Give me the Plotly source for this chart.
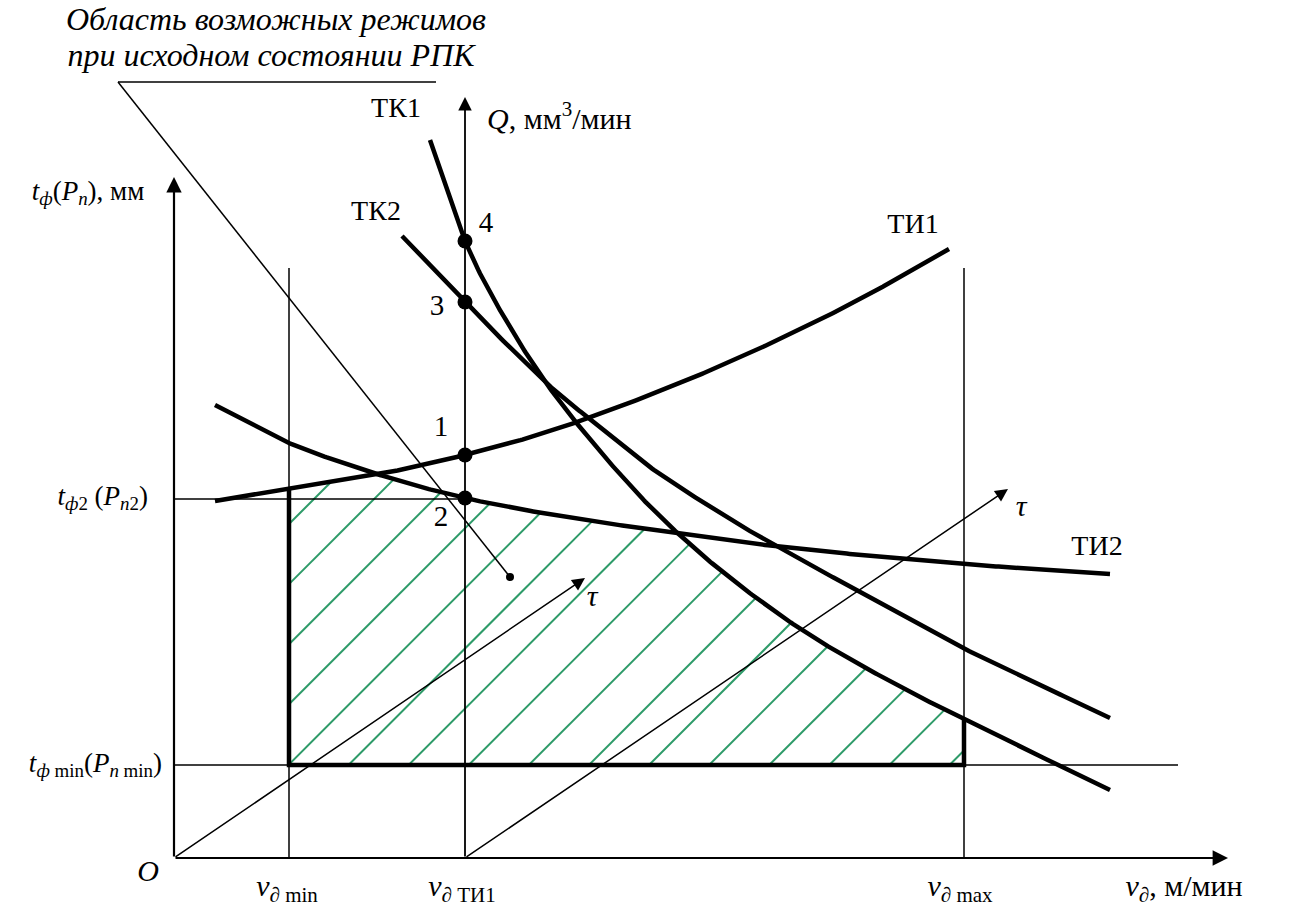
import numpy as np
import plotly.graph_objects as go

# ---------------- data (schematic units; O is the origin) ----------------
V_MIN, V_TI1, V_MAX = 1.15, 2.91, 7.90
T_F2, T_MIN = 3.59, 0.93

ti1_x = [0.41, 1.15, 2.06, 2.91, 3.70, 4.50, 5.30, 6.10, 6.90, 7.75]
ti1_y = [3.57, 3.69, 3.84, 4.03, 4.25, 4.53, 4.85, 5.21, 5.61, 6.09]

ti2_x = [0.41, 1.15, 2.06, 2.91, 3.80, 4.80, 6.00, 7.20, 8.30, 9.36]
ti2_y = [4.53, 4.15, 3.83, 3.60, 3.43, 3.28, 3.12, 3.00, 2.91, 2.84]

tk1_x = [2.56, 2.91, 3.30, 3.75, 4.25, 4.80, 5.45, 6.25, 7.10, 8.00, 9.36]
tk1_y = [7.18, 6.17, 5.41, 4.71, 4.08, 3.475, 2.89, 2.30, 1.80, 1.34, 0.68]

tk2_x = [2.28, 2.91, 3.66, 4.13, 4.73, 5.46, 6.06, 7.06, 7.89, 9.36]
tk2_y = [6.22, 5.56, 4.81, 4.41, 3.93, 3.45, 3.10, 2.55, 2.10, 1.40]

point_labels = ["1", "2", "3", "4"]
point_y = [4.03, 3.60, 5.56, 6.17]

curve_names = ["ТИ1", "ТИ2", "ТК1", "ТК2"]

AXIS_X_END, AXIS_Y_END, Q_AXIS_END = 10.54, 6.81, 7.61
GUIDE_TOP = 5.90
TMIN_LINE_END = 10.04
TAU1_END = (4.11, 2.80)
TAU2_END = (8.34, 3.69)
LEADER = [(-0.56, 7.76), (2.62, 7.76), (3.36, 2.81)]

HATCH_B0, HATCH_STEP, HATCH_N = 2.19, 0.601, 16

# ---------------- helpers ----------------
def smooth(xs, ys, n=40):
    P = np.column_stack([xs, ys]).astype(float)
    P = np.vstack([2 * P[0] - P[1], P, 2 * P[-1] - P[-2]])
    out = []
    t = np.linspace(0, 1, n, endpoint=False)[:, None]
    for i in range(1, len(P) - 2):
        p0, p1, p2, p3 = P[i - 1], P[i], P[i + 1], P[i + 2]
        pts = 0.5 * ((2 * p1) + (-p0 + p2) * t + (2 * p0 - 5 * p1 + 4 * p2 - p3) * t ** 2
                     + (-p0 + 3 * p1 - 3 * p2 + p3) * t ** 3)
        out.append(pts)
    out.append(P[-2][None, :])
    S = np.vstack(out)
    return S[:, 0], S[:, 1]

TI1 = smooth(ti1_x, ti1_y)
TI2 = smooth(ti2_x, ti2_y)
TK1 = smooth(tk1_x, tk1_y)
TK2 = smooth(tk2_x, tk2_y)

def f(curve, x):
    return np.interp(x, curve[0], curve[1], left=np.inf, right=np.inf)

BLACK = "#000000"
GREEN = "#2e9b69"
FONT = "Liberation Serif"

fig = go.Figure()

# ---------------- hatching ----------------
grid = np.linspace(V_MIN, V_MAX, 6000)
top = np.minimum(np.minimum(f(TI1, grid), f(TI2, grid)), f(TK1, grid))
hx, hy = [], []
for k in range(HATCH_N):
    b = HATCH_B0 - k * HATCH_STEP
    yy = grid + b
    inside = (yy >= T_MIN) & (yy <= top)
    if not inside.any():
        continue
    xs = grid[inside]
    x0 = max(xs.min(), T_MIN - b, V_MIN)
    x1 = xs.max()
    hx += [x0, x1, None]
    hy += [x0 + b, x1 + b, None]
fig.add_trace(go.Scatter(x=hx, y=hy, mode="lines",
                         line=dict(color=GREEN, width=2), hoverinfo="skip"))

# ---------------- thin guide lines ----------------
thin_x = [V_MIN, V_MIN, None, V_MAX, V_MAX, None, 0, V_TI1, None, 0, TMIN_LINE_END, None,
          LEADER[0][0], LEADER[1][0], None, LEADER[0][0], LEADER[2][0]]
thin_y = [0, GUIDE_TOP, None, 0, GUIDE_TOP, None, T_F2, T_F2, None, T_MIN, T_MIN, None,
          LEADER[0][1], LEADER[1][1], None, LEADER[0][1], LEADER[2][1]]
fig.add_trace(go.Scatter(x=thin_x, y=thin_y, mode="lines",
                         line=dict(color=BLACK, width=1.5), hoverinfo="skip"))

# ---------------- region boundary ----------------
bx = [V_MIN, V_MIN, V_MAX, V_MAX]
by = [float(f(TI1, V_MIN)), T_MIN, T_MIN, float(f(TK1, V_MAX))]
fig.add_trace(go.Scatter(x=bx, y=by, mode="lines",
                         line=dict(color=BLACK, width=4.5), hoverinfo="skip"))

# ---------------- characteristic curves ----------------
for c in (TI1, TI2, TK1, TK2):
    fig.add_trace(go.Scatter(x=c[0], y=c[1], mode="lines",
                             line=dict(color=BLACK, width=4.5), hoverinfo="skip"))

# ---------------- points ----------------
fig.add_trace(go.Scatter(x=[V_TI1] * 4, y=point_y, mode="markers",
                         marker=dict(color=BLACK, size=15), hoverinfo="skip"))
fig.add_trace(go.Scatter(x=[LEADER[2][0]], y=[LEADER[2][1]], mode="markers",
                         marker=dict(color=BLACK, size=8), hoverinfo="skip"))

# ---------------- arrows (axes and tau directions) ----------------
def arrow(x0, y0, x1, y1, w=2, size=1.4):
    fig.add_annotation(x=x1, y=y1, ax=x0, ay=y0, xref="x", yref="y", axref="x", ayref="y",
                       text="", showarrow=True, arrowhead=2, arrowsize=size,
                       arrowwidth=w, arrowcolor=BLACK, standoff=0, startstandoff=0,
                       font=dict(family=FONT, size=12))

arrow(0, 0, AXIS_X_END, 0, w=2.2, size=1.4)
arrow(0, 0, 0, AXIS_Y_END, w=2.2, size=1.4)
arrow(V_TI1, 0, V_TI1, Q_AXIS_END, w=1.8, size=1.5)
arrow(0, 0, TAU1_END[0], TAU1_END[1], w=1.5, size=1.7)
arrow(V_TI1, 0, TAU2_END[0], TAU2_END[1], w=1.5, size=1.7)

# ---------------- text ----------------
def label(x, y, text, size=28, pos="middle center"):
    fig.add_trace(go.Scatter(x=[x], y=[y], mode="text", text=[text],
                             textposition=pos, hoverinfo="skip",
                             textfont=dict(family=FONT, size=size, color=BLACK)))

label(1.02, 8.36, "<i>Область возможных режимов</i>", size=32)
label(0.97, 8.00, "<i>при исходном состоянии РПК</i>", size=32)

label(-0.86, 6.65, "<i>t</i><sub><i>ф</i></sub>(<i>P</i><sub><i>n</i></sub>), мм", size=27)
label(-0.26, 3.60, "<i>t</i><sub><i>ф</i>2</sub> (<i>P</i><sub><i>n</i>2</sub>)", size=27, pos="middle left")
label(-0.12, 0.93, "<i>t</i><sub><i>ф</i> min</sub>(<i>P</i><sub><i>n</i> min</sub>)", size=27, pos="middle left")
label(-0.26, -0.15, "<i>O</i>", size=30)

label(V_MIN - 0.02, -0.30, "<i>v</i><sub>∂ min</sub>", size=30)
label(V_TI1 - 0.03, -0.30, "<i>v</i><sub>∂ ТИ1</sub>", size=30)
label(V_MAX - 0.04, -0.30, "<i>v</i><sub>∂ max</sub>", size=30)
label(10.10, -0.30, "<i>v</i><sub>∂</sub>, м/мин", size=30)

label(3.13, 7.37, "<i>Q</i>, мм<sup>3</sup>/мин", size=30, pos="middle right")

label(2.22, 7.48, curve_names[2], size=28)
label(2.02, 6.45, curve_names[3], size=28)
label(7.39, 6.32, curve_names[0], size=28)
label(9.23, 3.10, curve_names[1], size=28)

label(2.67, 4.29, point_labels[0], size=29)
label(2.67, 3.39, point_labels[1], size=29)
label(2.63, 5.50, point_labels[2], size=29)
label(3.12, 6.33, point_labels[3], size=29)

label(4.18, 2.60, "<i>τ</i>", size=30)
label(8.47, 3.50, "<i>τ</i>", size=30)

fig.update_layout(
    width=1297, height=919, autosize=False,
    margin=dict(l=0, r=0, t=0, b=0),
    paper_bgcolor="white", plot_bgcolor="white",
    showlegend=False,
    font=dict(family=FONT, size=28, color=BLACK),
    xaxis=dict(range=[-1.74, 11.23], visible=False, fixedrange=True),
    yaxis=dict(range=[-0.61, 8.58], visible=False, fixedrange=True),
)

fig.write_html("out.html", config={"displayModeBar": False})
